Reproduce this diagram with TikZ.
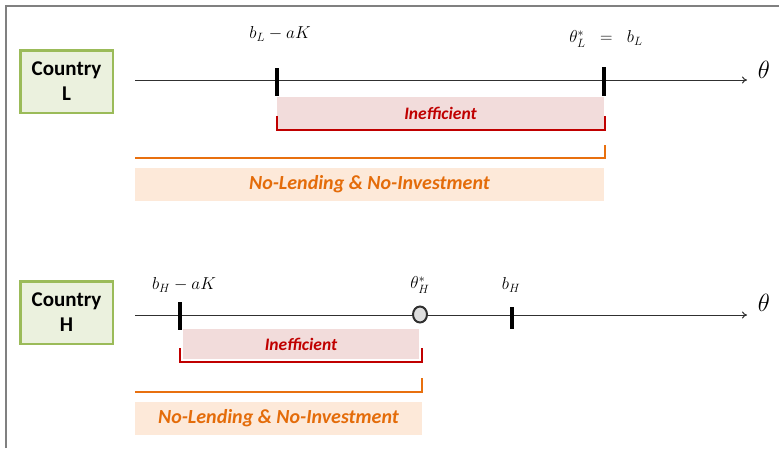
\documentclass[tikz,border=0pt]{standalone}
\usepackage{fontspec}
\newfontfamily\calfont{Carlito}
\usetikzlibrary{arrows.meta,shapes.geometric}
\definecolor{cgreen}{HTML}{9BBB59}
\definecolor{cfill}{HTML}{EBF1DE}
\definecolor{pinkfill}{HTML}{F2DCDB}
\definecolor{cred}{HTML}{C00000}
\definecolor{corange}{HTML}{E46C0A}
\definecolor{oline}{HTML}{E8700F}
\definecolor{peach}{HTML}{FDE9D9}
\definecolor{axisc}{HTML}{303030}
\begin{document}
\begin{tikzpicture}[x=1pt,y=-1pt,
  country/.style={draw=cgreen, line width=2.5pt, fill=cfill, minimum width=92.5pt, minimum height=62.5pt, inner sep=0pt, align=center, font=\calfont\bfseries\fontsize{21}{25}\selectfont},
  ineff/.style={fill=pinkfill, inner sep=0pt, text=cred, font=\calfont\bfseries\itshape\fontsize{17.5}{20}\selectfont},
  nolend/.style={fill=peach, inner sep=0pt, text=corange, font=\calfont\bfseries\itshape\fontsize{20}{24}\selectfont},
  axisline/.style={draw=axisc, line width=1pt, -{To[length=5pt,width=7pt]}},
  tickmark/.style={draw=black, line width=3.2pt},
  redbr/.style={draw=cred, line width=2pt},
  orbr/.style={draw=oline, line width=2pt},
  mlabel/.style={inner sep=0pt, font=\fontsize{18}{21}\selectfont},
  thlabel/.style={inner sep=0pt, font=\fontsize{30}{34}\selectfont},
  frameline/.style={draw=gray, line width=1.5pt}]
\useasboundingbox (0,0) rectangle (779,448);
\draw[frameline] (6,448) -- (6,6) -- (779,6);

% ---------------- Country L ----------------
\node[country] (cL) at (66.5,81.5) {Country\\L};
\coordinate (aL0) at (135,80);
\coordinate (aL1) at (747,80);
\draw[axisline] (aL0) -- (aL1);
\node[thlabel] (thL) at (764,70) {$\theta$};

\node[ineff, minimum width=327pt, minimum height=33pt] (inefL) at (440.5,113.5) {Inefficient};
\coordinate (tL1a) at (277,68);
\coordinate (tL1b) at (277,96);
\coordinate (tL2a) at (604,67);
\coordinate (tL2b) at (604,96);
\draw[tickmark] (tL1a) -- (tL1b);
\draw[tickmark] (tL2a) -- (tL2b);
\node[mlabel] (lbL1) at (280,34) {$b_L - aK$};
\node[mlabel] (lbL2) at (606,39) {$\theta^*_L\;\;=\;\;b_L$};

\draw[redbr] (277,116) |- (605,129.5) -- (605,116);

\draw[orbr] (135,157.5) -- (605,157.5) -- (605,145);
\node[nolend, minimum width=469pt, minimum height=33pt] (nlL) at (369.5,184.5) {No-Lending \& No-Investment};

% ---------------- Country H ----------------
\node[country] (cH) at (66.5,312.5) {Country\\H};
\coordinate (aH0) at (135,315);
\coordinate (aH1) at (747,315);
\draw[axisline] (aH0) -- (aH1);
\node[thlabel] (thH) at (764,303) {$\theta$};

\node[ineff, minimum width=236pt, minimum height=30pt] (inefH) at (301,344) {Inefficient};
\coordinate (tH1a) at (180,302);
\coordinate (tH1b) at (180,330);
\coordinate (tH2a) at (512,307);
\coordinate (tH2b) at (512,329);
\draw[tickmark] (tH1a) -- (tH1b);
\draw[tickmark] (tH2a) -- (tH2b);
\node[ellipse, draw=axisc, line width=2pt, fill=gray!25, minimum width=14pt, minimum height=16pt, inner sep=0pt] (thstar) at (420,314.5) {};
\node[mlabel] (lbH1) at (184,285) {$b_H - aK$};
\node[mlabel] (lbH2) at (420,285) {$\theta^*_H$};
\node[mlabel] (lbH3) at (511,285) {$b_H$};

\draw[redbr] (180,348) |- (422,362) -- (422,348);

\draw[orbr] (135,392) -- (422,392) -- (422,378);
\node[nolend, minimum width=287pt, minimum height=33pt] (nlH) at (278.5,418.5) {No-Lending \& No-Investment};
\end{tikzpicture}
\end{document}
